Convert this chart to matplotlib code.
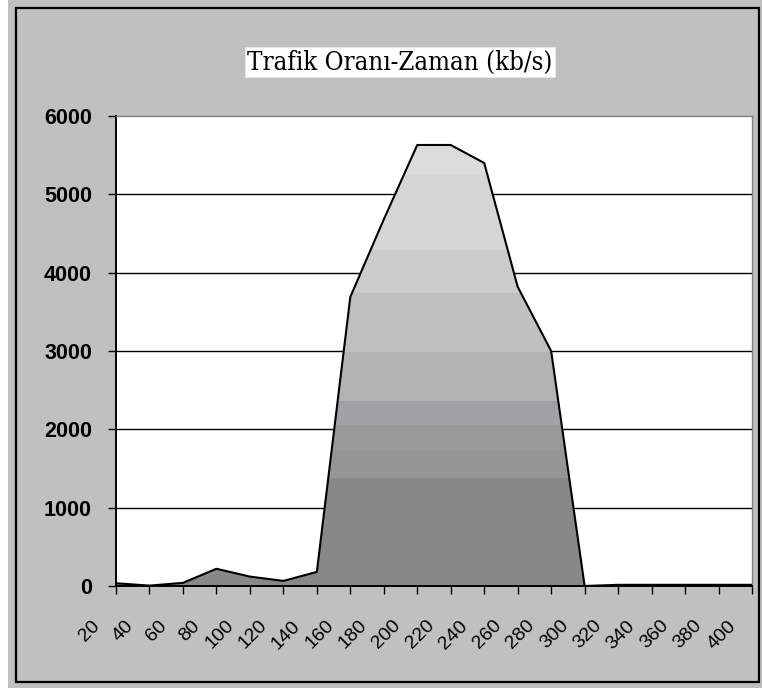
import matplotlib
matplotlib.use("Agg")
import matplotlib.pyplot as plt
import matplotlib.transforms as mtransforms
from matplotlib.patches import Rectangle

# zaman ekseni (kategori) ve trafik orani (kb/s)
zaman = [20, 40, 60, 80, 100, 120, 140, 160, 180, 200,
         220, 240, 260, 280, 300, 320, 340, 360, 380, 400]
trafik = [35, 5, 40, 220, 120, 65, 180, 3690, 4680, 5630,
          5630, 5400, 3820, 3000, 0, 15, 15, 15, 15, 15]
y_tikler = [0, 1000, 2000, 3000, 4000, 5000, 6000]

baslik = "Trafik Oranı-Zaman (kb/s)"

# dolgu icin yatay gri bantlar (asagidan yukari)
bant_sinirlari = [0, 1380, 1740, 2060, 2360, 2990, 3740, 4290, 5250, 6000]
bant_renkleri = ["#888888", "#959595", "#999999", "#a0a0a5", "#b3b3b3",
                 "#c0c0c0", "#cbcbcb", "#d5d5d5", "#dbdbdb"]

W, H = 762, 688
fig = plt.figure(figsize=(W / 100, H / 100), dpi=100)
fig.patch.set_facecolor("#c0c0c0")

# sol kenardaki beyaz serit ve cerceve
fig.patches.append(Rectangle((0, 0), 8 / W, 1, transform=fig.transFigure,
                             facecolor="white", edgecolor="none", zorder=0))
fig.patches.append(Rectangle((16 / W, 1 - 682 / H), (759 - 16) / W, (682 - 8) / H,
                             transform=fig.transFigure, facecolor="none",
                             edgecolor="black", linewidth=1.6, zorder=1))

sol, sag, ust, alt = 116, 752, 116, 586
ax = fig.add_axes([sol / W, 1 - alt / H, (sag - sol) / W, (alt - ust) / H])
ax.set_facecolor("white")

x = list(range(len(zaman)))
dolgu = ax.fill_between(x, trafik, 0, facecolor="none", edgecolor="none")
yol = dolgu.get_paths()[0]
for i, renk in enumerate(bant_renkleri):
    bant = ax.axhspan(bant_sinirlari[i], bant_sinirlari[i + 1], color=renk,
                      linewidth=0, zorder=1)
    bant.set_clip_path(yol, ax.transData)

for t in y_tikler[1:-1]:
    ax.axhline(t, color="black", linewidth=1.0, zorder=0.5)

ax.plot(x, trafik, color="black", linewidth=1.5, zorder=3)

ax.set_xlim(0, len(zaman) - 1)
ax.set_ylim(0, 6000)
ax.set_yticks(y_tikler)
ax.set_yticklabels([str(t) for t in y_tikler], fontsize=15.5, fontweight="bold",
                   family="Liberation Sans")
ax.set_xticks(x)
ax.set_xticklabels([str(z) for z in zaman], fontsize=14, family="Liberation Sans",
                   rotation=45, ha="right", va="center", rotation_mode="anchor")

ax.tick_params(axis="y", direction="out", length=5.8, width=1.0, pad=11.5)
ax.tick_params(axis="x", direction="out", length=5.8, width=1.0, pad=21)
kaydir = mtransforms.ScaledTranslation(-19 / 100, 0, fig.dpi_scale_trans)
for etiket in ax.get_xticklabels():
    etiket.set_transform(etiket.get_transform() + kaydir)

for k in ["top", "right"]:
    ax.spines[k].set_color("#808080")
    ax.spines[k].set_linewidth(1.0)
for k in ["left", "bottom"]:
    ax.spines[k].set_color("black")
    ax.spines[k].set_linewidth(1.4)

fig.text(400 / W, 1 - 62 / H, baslik, ha="center", va="center",
         fontsize=18.5, family="DejaVu Serif", fontstretch="condensed",
         bbox=dict(boxstyle="square,pad=0.1", facecolor="white",
                   edgecolor="#e6e6e6", linewidth=0.8))

fig.savefig("out.png", dpi=100, facecolor=fig.get_facecolor())
